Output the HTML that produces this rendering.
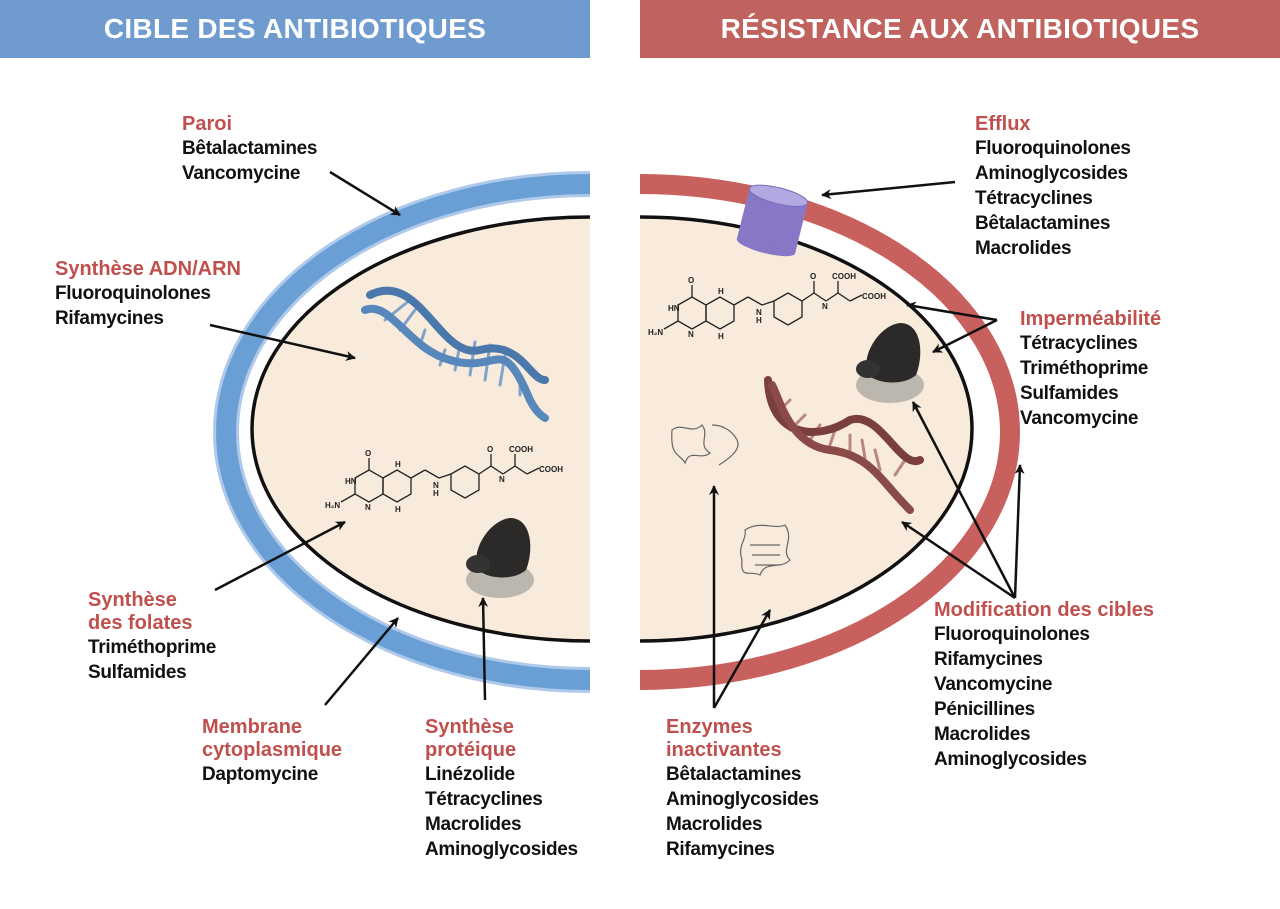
<!DOCTYPE html>
<html><head><meta charset="utf-8"><style>
body{margin:0;width:1280px;height:909px;background:#fff;position:relative;overflow:hidden;font-family:"Liberation Sans",sans-serif}
.h{position:absolute;top:0;height:58px;color:#fff;font-weight:bold;font-size:28px;line-height:58px;text-align:center;letter-spacing:0.3px}
.l{position:absolute;font-family:"Liberation Sans Narrow","Liberation Sans",sans-serif;font-size:19px;font-weight:bold;line-height:25px;color:#111;white-space:nowrap;letter-spacing:-0.3px}
.l b{display:block;color:#c0504d;font-family:"Liberation Sans",sans-serif;font-size:20px;line-height:23px;letter-spacing:0}
svg{position:absolute;left:0;top:0}
</style></head><body>
<div class="h" style="left:0;width:590px;background:#6f9bce">CIBLE DES ANTIBIOTIQUES</div>
<div class="h" style="left:640px;width:640px;background:#c0625d">RÉSISTANCE AUX ANTIBIOTIQUES</div>
<svg width="1280" height="909" viewBox="0 0 1280 909">
<defs>
<marker id="a" markerWidth="10" markerHeight="10" refX="9" refY="5" orient="auto" markerUnits="userSpaceOnUse"><path d="M0,0 L10,5 L0,10 L3,5 z" fill="#111"/></marker>
<clipPath id="cl"><rect x="0" y="60" width="590" height="849"/></clipPath>
<clipPath id="cr"><rect x="640" y="60" width="640" height="849"/></clipPath>
<g id="fol" fill="none" stroke="#222" stroke-width="1.3">
<polygon points="30,30 44,22 58,30 58,46 44,54 30,46"/>
<polygon points="58,30 72,22 86,30 86,46 72,54 58,46"/>
<line x1="44" y1="22" x2="44" y2="10"/><line x1="86" y1="30" x2="100" y2="22"/><line x1="100" y1="22" x2="114" y2="30"/>
<polygon points="126,26 140,18 154,26 154,42 140,50 126,42"/>
<line x1="114" y1="30" x2="126" y2="26"/><line x1="154" y1="26" x2="166" y2="18"/><line x1="166" y1="18" x2="166" y2="6"/>
<line x1="166" y1="18" x2="178" y2="26"/><line x1="178" y1="26" x2="190" y2="18"/><line x1="190" y1="18" x2="190" y2="6"/>
<line x1="190" y1="18" x2="202" y2="26"/><line x1="202" y1="26" x2="214" y2="20"/><line x1="30" y1="46" x2="16" y2="54"/>
<g fill="#222" stroke="none" font-family="Liberation Sans" font-size="8" font-weight="bold"><text x="40" y="8">O</text><text x="20" y="36">HN</text><text x="0" y="60">H₂N</text><text x="40" y="62">N</text><text x="70" y="19">H</text><text x="70" y="64">H</text><text x="108" y="40">N</text><text x="108" y="48">H</text><text x="162" y="4">O</text><text x="174" y="34">N</text><text x="184" y="4">COOH</text><text x="214" y="24">COOH</text></g>
</g>
<g id="rib"><ellipse cx="0" cy="40" rx="34" ry="18" fill="#bcb7ae"/><path d="M-22,30 C-30,10 -10,-20 10,-22 C32,-22 34,10 26,30 C15,40 -10,40 -22,30z" fill="#2b2a28"/><ellipse cx="-22" cy="24" rx="12" ry="9" fill="#333"/></g>
</defs>
<g clip-path="url(#cl)">
<ellipse cx="590" cy="432" rx="364" ry="248" fill="#fff" stroke="#aec9e9" stroke-width="26"/>
<ellipse cx="590" cy="432" rx="364" ry="248" fill="none" stroke="#6a9fd6" stroke-width="20"/>
<ellipse cx="590" cy="429" rx="338" ry="212" fill="#f8ebdc" stroke="#111" stroke-width="3.5"/>
</g>
<g clip-path="url(#cr)">
<ellipse cx="640" cy="432" rx="370" ry="248" fill="#fff" stroke="#c8605d" stroke-width="20"/>
<ellipse cx="640" cy="429" rx="332" ry="212" fill="#f8ebdc" stroke="#111" stroke-width="3.5"/>
</g>
<g fill="none" stroke-linecap="round">
<g stroke="#7fa3cc" stroke-width="3"><line x1="385" y1="320" x2="410" y2="300"/><line x1="400" y1="330" x2="415" y2="310"/><line x1="420" y1="345" x2="425" y2="330"/><line x1="445" y1="350" x2="440" y2="365"/><line x1="460" y1="345" x2="455" y2="370"/><line x1="475" y1="342" x2="470" y2="375"/><line x1="490" y1="345" x2="485" y2="380"/><line x1="505" y1="355" x2="500" y2="385"/><line x1="520" y1="375" x2="520" y2="395"/></g>
<path d="M370,295 C420,270 440,360 480,350 C520,340 530,380 545,380" stroke="#4a78aa" stroke-width="8"/>
<path d="M365,310 C390,300 410,350 450,360 C500,375 500,330 530,400 C535,410 540,415 545,418" stroke="#5887bb" stroke-width="8"/>
</g>
<g fill="none" stroke-linecap="round">
<g stroke="#b88784" stroke-width="3"><line x1="775" y1="415" x2="790" y2="400"/><line x1="790" y1="430" x2="805" y2="415"/><line x1="810" y1="440" x2="820" y2="425"/><line x1="830" y1="445" x2="835" y2="430"/><line x1="850" y1="450" x2="850" y2="435"/><line x1="865" y1="458" x2="862" y2="440"/><line x1="880" y1="470" x2="875" y2="450"/><line x1="895" y1="475" x2="905" y2="460"/></g>
<path d="M768,380 C770,440 820,440 850,420 C880,410 900,470 920,460" stroke="#7a3e3c" stroke-width="8"/>
<path d="M772,385 C780,400 790,445 830,450 C870,455 880,480 910,510" stroke="#8a4a48" stroke-width="8"/>
</g>
<use href="#fol" transform="translate(325,448)"/>
<use href="#fol" transform="translate(648,275)"/>
<use href="#rib" transform="translate(500,540)"/>
<use href="#rib" transform="translate(890,345)"/>
<g fill="none" stroke="#666" stroke-width="1.2">
<path d="M672,430 c10,-8 20,5 30,-5 c8,10 -5,20 8,28 c-10,8 -20,-5 -25,10 c-5,-10 -15,-5 -13,-33z M712,425 c10,0 20,5 25,15 c5,10 -10,20 -18,25"/>
<path d="M745,530 c15,-10 30,0 40,-5 c10,15 -5,25 5,35 c-10,10 -25,0 -30,15 c-10,-5 -20,5 -18,-15 c-5,-15 5,-20 3,-30z M750,545 h30 M752,555 h28 M755,565 h25"/>
</g>
<g transform="rotate(14 772 222)"><rect x="742" y="195" width="60" height="52" fill="#8876c7"/><ellipse cx="772" cy="247" rx="30" ry="7" fill="#8876c7"/><ellipse cx="772" cy="195" rx="30" ry="8" fill="#b2a8e2" stroke="#7a6ab8"/></g>
<g stroke="#111" stroke-width="2.5" marker-end="url(#a)" fill="none">
<line x1="330" y1="172" x2="400" y2="215"/>
<line x1="210" y1="325" x2="355" y2="358"/>
<line x1="215" y1="590" x2="345" y2="522"/>
<line x1="325" y1="705" x2="398" y2="618"/>
<line x1="485" y1="700" x2="483" y2="598"/>
<line x1="955" y1="182" x2="822" y2="195"/>
<line x1="997" y1="320" x2="907" y2="305"/>
<line x1="997" y1="320" x2="933" y2="352"/>
<line x1="1015" y1="598" x2="913" y2="402"/>
<line x1="1015" y1="598" x2="902" y2="522"/>
<line x1="1015" y1="598" x2="1020" y2="465"/>
<line x1="714" y1="708" x2="714" y2="486"/>
<line x1="714" y1="708" x2="770" y2="610"/>
</g>
</svg>
<div class="l" style="left:182px;top:113px"><b>Paroi</b>Bêtalactamines<br>Vancomycine</div>
<div class="l" style="left:55px;top:258px"><b>Synthèse ADN/ARN</b>Fluoroquinolones<br>Rifamycines</div>
<div class="l" style="left:88px;top:589px"><b>Synthèse<br>des folates</b>Triméthoprime<br>Sulfamides</div>
<div class="l" style="left:202px;top:716px"><b>Membrane<br>cytoplasmique</b>Daptomycine</div>
<div class="l" style="left:425px;top:716px"><b>Synthèse<br>protéique</b>Linézolide<br>Tétracyclines<br>Macrolides<br>Aminoglycosides</div>
<div class="l" style="left:975px;top:113px"><b>Efflux</b>Fluoroquinolones<br>Aminoglycosides<br>Tétracyclines<br>Bêtalactamines<br>Macrolides</div>
<div class="l" style="left:1020px;top:308px"><b>Imperméabilité</b>Tétracyclines<br>Triméthoprime<br>Sulfamides<br>Vancomycine</div>
<div class="l" style="left:934px;top:599px"><b>Modification des cibles</b>Fluoroquinolones<br>Rifamycines<br>Vancomycine<br>Pénicillines<br>Macrolides<br>Aminoglycosides</div>
<div class="l" style="left:666px;top:716px"><b>Enzymes<br>inactivantes</b>Bêtalactamines<br>Aminoglycosides<br>Macrolides<br>Rifamycines</div>
</body></html>
